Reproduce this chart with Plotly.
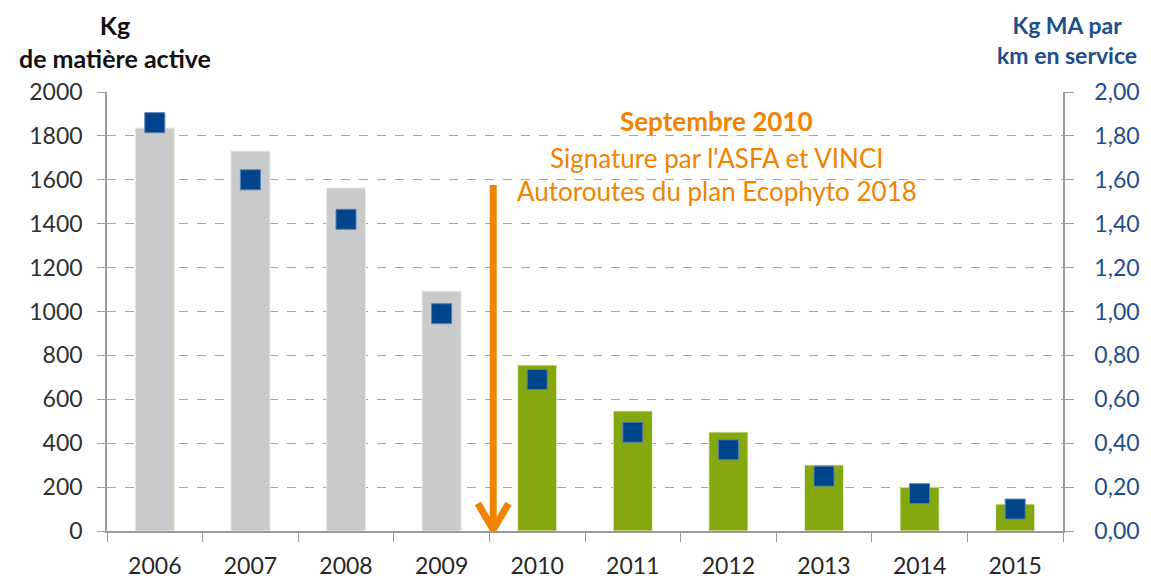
import plotly.graph_objects as go

years = ["2006", "2007", "2008", "2009", "2010", "2011", "2012", "2013", "2014", "2015"]
kg_ma = [1836, 1731, 1563, 1093, 756, 547, 451, 301, 200, 123]
kg_per_km = [1.86, 1.60, 1.42, 0.99, 0.69, 0.45, 0.37, 0.25, 0.17, 0.10]
bar_colors = ["#C9CACC"] * 4 + ["#84A80E"] * 6
left_ticks = [0, 200, 400, 600, 800, 1000, 1200, 1400, 1600, 1800, 2000]
right_ticks = [0, 0.2, 0.4, 0.6, 0.8, 1.0, 1.2, 1.4, 1.6, 1.8, 2.0]
right_labels = ["0,00", "0,20", "0,40", "0,60", "0,80", "1,00", "1,20", "1,40", "1,60", "1,80", "2,00"]
arrow_x = 3.54
arrow_top = 1576
note_lines = ["<b>Septembre 2010</b>", "Signature par l'ASFA et VINCI", "Autoroutes du plan Ecophyto 2018"]
note_offsets = [-29, -66, -99]

ORANGE = "#F08300"
BLUE = "#00458B"
FONT = "Lato"
AXIS = "#9A9A9A"

fig = go.Figure()
fig.add_trace(go.Bar(x=years, y=kg_ma, marker=dict(color=bar_colors, line=dict(color="#EEF2E0", width=1)),
                     width=0.41, yaxis="y", showlegend=False))
fig.add_trace(go.Scatter(x=years, y=kg_per_km, mode="markers", yaxis="y2", showlegend=False,
                         marker=dict(symbol="square", size=20, color=BLUE, line=dict(color="#5B7FB0", width=1))))

# arrow
fig.add_shape(type="line", x0=arrow_x, x1=arrow_x, y0=arrow_top, y1=10, xref="x", yref="y",
              line=dict(color=ORANGE, width=7))
fig.add_shape(type="path", xref="x", yref="y",
              path=f"M {arrow_x-0.16},125 L {arrow_x},6 L {arrow_x+0.16},125",
              line=dict(color=ORANGE, width=7))

for line, off in zip(note_lines, note_offsets):
    fig.add_annotation(x=0.638, y=1.0, xref="paper", yref="paper", text=line,
                       showarrow=False, xanchor="center", yanchor="middle", yshift=off,
                       font=dict(family=FONT, size=26, color=ORANGE))

fig.add_annotation(x=0.0, y=1.0, xref="paper", yref="paper", text="<b>Kg<br>de matière active</b>",
                   showarrow=False, xanchor="center", yanchor="bottom", xshift=8, yshift=17,
                   font=dict(family=FONT, size=25, color="#111111"), align="center")
fig.add_annotation(x=1.0, y=1.0, xref="paper", yref="paper", text="<b>Kg MA par<br>km en service</b>",
                   showarrow=False, xanchor="center", yanchor="bottom", xshift=4, yshift=21,
                   font=dict(family=FONT, size=23, color="#1F4E8C"), align="center")

# the page body adds an 8px offset; figure is sized so the plot lands where the reference has it
fig.update_layout(
    width=1143, height=570,
    margin=dict(l=99, r=88, t=84, b=47, autoexpand=False),
    paper_bgcolor="white", plot_bgcolor="white",
    font=dict(family=FONT, size=23, color="#303030"),
    xaxis=dict(type="category", range=[-0.5, 9.5], tickson="boundaries", ticks="outside", ticklen=9,
               tickcolor=AXIS, showline=True, linecolor=AXIS, linewidth=1.5, showgrid=False,
               automargin=False, ticklabelstandoff=14,
               tickfont=dict(family=FONT, size=23, color="#262626")),
    yaxis=dict(range=[0, 2000], tickvals=left_ticks, ticks="outside", ticklen=8, tickcolor=AXIS,
               showline=True, linecolor=AXIS, linewidth=1.5, gridcolor="#A6A6A6", griddash="dash",
               gridwidth=1, zeroline=False, automargin=False, ticklabelstandoff=10,
               tickfont=dict(family=FONT, size=23, color="#303030")),
    yaxis2=dict(range=[0, 2.0], tickvals=right_ticks, ticktext=right_labels, overlaying="y", side="right",
                ticks="outside", ticklen=9, tickcolor=AXIS, showline=True, linecolor=AXIS,
                linewidth=1.5, showgrid=False, zeroline=False, automargin=False, ticklabelstandoff=16,
                tickfont=dict(family=FONT, size=23, color="#1F4E8C")),
)

fig.write_html("out.html")
